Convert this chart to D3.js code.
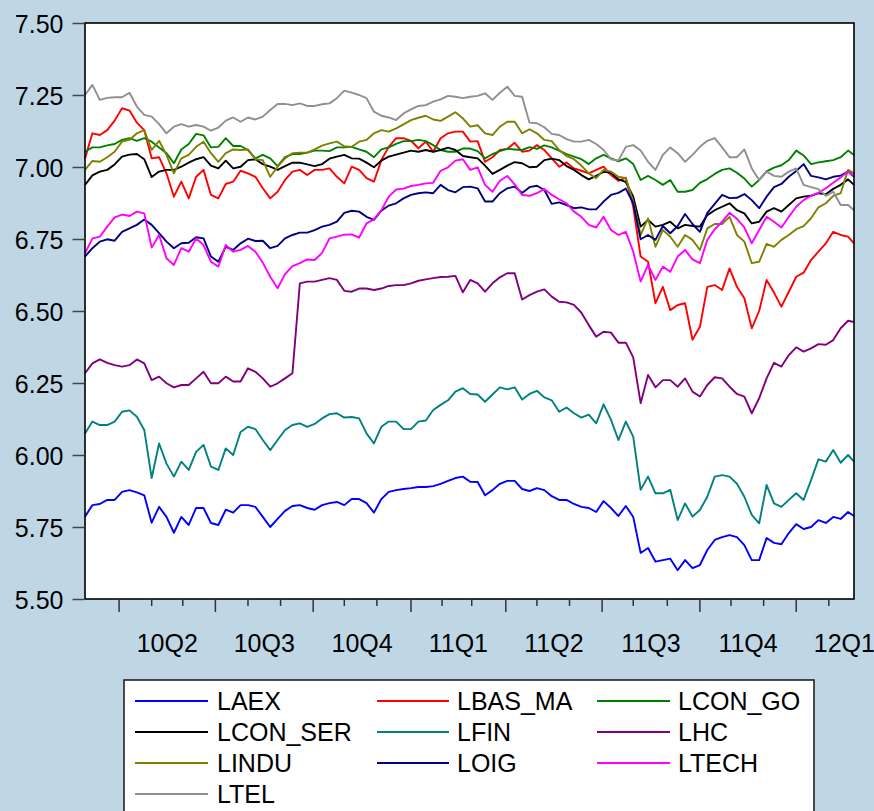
<!DOCTYPE html>
<html><head><meta charset="utf-8">
<script src="https://cdn.jsdelivr.net/npm/d3@7"></script>
<style>body{margin:0;background:#bfd7e4}svg{display:block}</style>
</head><body><svg id="c" width="874" height="811"></svg>
<script>
// ---- data (weekly readings of the daily series, observation index = weekdays since 2010-03-01) ----
const seriesNames = ["LAEX","LBAS_MA","LCON_GO","LCON_SER","LFIN","LHC","LINDU","LOIG","LTECH","LTEL"];
const seriesColors = ["#0000ff","#ff0000","#008000","#000000","#008080","#800080","#808000","#000080","#ff00ff","#8f8f8f"];
const sampleObs = d3.range(0, 520, 5).concat([519]);

const LAEX = [5.786,5.826,5.83,5.844,5.844,5.872,5.878,5.87,5.86,5.765,
5.82,5.785,5.73,5.785,5.757,5.816,5.816,5.764,5.757,5.81,
5.80,5.826,5.826,5.82,5.785,5.75,5.778,5.806,5.823,5.826,
5.816,5.81,5.826,5.833,5.837,5.826,5.847,5.847,5.833,5.80,
5.847,5.872,5.878,5.882,5.885,5.889,5.889,5.892,5.90,5.91,
5.92,5.925,5.907,5.906,5.86,5.878,5.90,5.91,5.91,5.882,
5.875,5.885,5.878,5.857,5.844,5.844,5.83,5.82,5.816,5.802,
5.84,5.816,5.788,5.823,5.785,5.66,5.677,5.63,5.635,5.64,
5.60,5.635,5.607,5.618,5.67,5.705,5.715,5.722,5.715,5.687,
5.635,5.635,5.712,5.695,5.69,5.729,5.76,5.743,5.75,5.774,
5.764,5.785,5.778,5.802,5.788];
const LBAS_MA = [7.03,7.117,7.111,7.128,7.161,7.204,7.196,7.154,7.128,7.03,
7.034,6.978,6.897,6.949,6.891,6.966,6.99,6.903,6.891,6.941,
6.949,6.987,6.978,6.966,6.926,6.891,6.914,6.955,6.984,6.99,
6.972,6.99,6.99,6.995,6.966,6.943,7.001,6.99,6.961,6.949,
7.024,7.07,7.1,7.1,7.091,7.065,7.088,7.053,7.1,7.117,
7.123,7.123,7.088,7.09,7.018,7.034,7.059,7.063,7.084,7.053,
7.057,7.076,7.059,7.03,7.001,7.016,6.995,6.987,6.978,6.99,
7.001,6.972,6.952,6.963,6.862,6.689,6.671,6.527,6.584,6.503,
6.521,6.527,6.40,6.445,6.584,6.59,6.573,6.648,6.584,6.544,
6.44,6.50,6.608,6.564,6.515,6.567,6.619,6.633,6.677,6.706,
6.735,6.775,6.764,6.758,6.735];
const LCON_GO = [7.053,7.068,7.068,7.075,7.08,7.094,7.1,7.091,7.1,7.088,
7.068,7.048,7.013,7.061,7.08,7.115,7.11,7.068,7.07,7.1,
7.073,7.073,7.059,7.03,7.042,7.03,7.003,7.034,7.045,7.045,
7.05,7.057,7.057,7.055,7.068,7.068,7.07,7.061,7.053,7.034,
7.061,7.068,7.08,7.09,7.09,7.094,7.09,7.076,7.059,7.053,
7.053,7.064,7.064,7.055,7.03,7.045,7.055,7.063,7.061,7.059,
7.069,7.063,7.075,7.068,7.057,7.045,7.036,7.027,7.01,7.03,
7.042,7.03,7.02,7.03,7.01,6.955,6.969,6.955,6.938,6.955,
6.914,6.914,6.92,6.945,6.958,6.976,6.99,6.995,6.98,6.96,
6.932,6.955,6.985,6.998,7.006,7.024,7.057,7.04,7.01,7.016,
7.02,7.024,7.034,7.057,7.042];
const LCON_SER = [6.938,6.971,6.984,6.99,7.009,7.036,7.043,7.045,7.027,6.965,
6.984,6.99,6.99,7.001,7.015,7.027,7.034,7.005,6.995,7.022,
6.995,7.001,7.024,7.027,7.01,7.001,6.99,7.003,7.015,7.015,
7.009,7.003,7.01,7.029,7.036,7.042,7.03,7.029,7.015,6.999,
7.022,7.036,7.043,7.05,7.057,7.053,7.059,7.053,7.059,7.067,
7.059,7.038,7.034,7.03,7.005,6.976,6.99,7.005,7.017,7.013,
6.999,7.001,7.024,7.029,7.024,7.003,6.99,6.972,6.957,6.969,
6.983,6.98,6.957,6.948,6.897,6.793,6.816,6.793,6.799,6.81,
6.787,6.799,6.795,6.793,6.833,6.85,6.862,6.874,6.85,6.839,
6.804,6.81,6.845,6.857,6.845,6.868,6.891,6.897,6.9,6.909,
6.905,6.924,6.938,6.957,6.938];
const LFIN = [6.075,6.116,6.104,6.104,6.116,6.15,6.155,6.133,6.087,5.92,
6.04,5.97,5.925,5.977,5.948,6.011,6.035,5.96,5.948,6.023,
6.0,6.08,6.098,6.09,6.052,6.017,6.052,6.087,6.104,6.11,
6.098,6.108,6.127,6.142,6.145,6.13,6.132,6.127,6.075,6.04,
6.098,6.116,6.116,6.09,6.09,6.116,6.12,6.156,6.174,6.19,
6.22,6.232,6.212,6.21,6.185,6.21,6.235,6.228,6.235,6.193,
6.212,6.223,6.2,6.19,6.15,6.165,6.145,6.13,6.14,6.11,
6.176,6.122,6.052,6.116,6.064,5.879,5.925,5.867,5.867,5.879,
5.774,5.832,5.786,5.809,5.855,5.925,5.93,5.925,5.90,5.855,
5.792,5.763,5.896,5.832,5.82,5.844,5.867,5.844,5.913,5.985,
5.977,6.017,5.973,6.0,5.977];
const LHC = [6.284,6.318,6.332,6.32,6.312,6.307,6.312,6.332,6.318,6.26,
6.272,6.249,6.235,6.243,6.243,6.266,6.289,6.249,6.249,6.272,
6.255,6.255,6.301,6.289,6.266,6.237,6.249,6.266,6.284,6.596,
6.602,6.602,6.608,6.614,6.608,6.57,6.567,6.578,6.578,6.573,
6.578,6.587,6.59,6.59,6.596,6.605,6.61,6.614,6.618,6.619,
6.622,6.565,6.608,6.596,6.567,6.596,6.617,6.631,6.631,6.54,
6.555,6.567,6.575,6.55,6.532,6.53,6.521,6.494,6.451,6.411,
6.428,6.425,6.39,6.39,6.339,6.18,6.278,6.235,6.26,6.26,
6.237,6.266,6.22,6.203,6.243,6.27,6.266,6.237,6.212,6.203,
6.145,6.197,6.266,6.32,6.307,6.347,6.374,6.359,6.37,6.385,
6.383,6.399,6.44,6.466,6.462];
const LINDU = [6.99,7.021,7.018,7.034,7.053,7.088,7.094,7.117,7.128,7.059,
7.091,7.042,6.978,7.03,7.042,7.07,7.088,7.048,7.018,7.048,
7.061,7.059,7.061,7.027,7.024,6.966,7.001,7.03,7.048,7.05,
7.05,7.061,7.074,7.082,7.088,7.072,7.07,7.088,7.094,7.117,
7.128,7.123,7.134,7.148,7.163,7.171,7.178,7.165,7.16,7.175,
7.19,7.169,7.14,7.145,7.117,7.111,7.14,7.157,7.157,7.117,
7.131,7.117,7.094,7.09,7.059,7.038,7.027,7.005,6.978,6.961,
6.99,6.984,6.966,6.961,6.88,6.764,6.822,6.723,6.781,6.758,
6.723,6.764,6.747,6.712,6.787,6.802,6.802,6.827,6.764,6.741,
6.666,6.671,6.733,6.723,6.747,6.764,6.784,6.795,6.822,6.86,
6.874,6.9,6.909,6.99,6.978];
const LOIG = [6.689,6.718,6.741,6.749,6.744,6.775,6.787,6.799,6.818,6.799,
6.77,6.741,6.718,6.735,6.737,6.756,6.752,6.689,6.671,6.723,
6.712,6.735,6.751,6.743,6.744,6.718,6.726,6.752,6.764,6.772,
6.772,6.781,6.793,6.799,6.81,6.841,6.848,6.845,6.827,6.816,
6.848,6.866,6.874,6.891,6.903,6.909,6.912,6.909,6.938,6.92,
6.912,6.93,6.932,6.926,6.88,6.88,6.909,6.926,6.932,6.91,
6.93,6.935,6.92,6.872,6.877,6.868,6.857,6.86,6.853,6.853,
6.88,6.903,6.91,6.925,6.874,6.749,6.764,6.747,6.795,6.77,
6.795,6.837,6.802,6.775,6.841,6.872,6.903,6.892,6.893,6.906,
6.885,6.857,6.897,6.93,6.941,6.966,6.986,7.01,6.969,6.964,
6.957,6.966,6.97,6.984,6.966];
const LTECH = [6.70,6.752,6.758,6.793,6.825,6.835,6.83,6.845,6.839,6.72,
6.764,6.683,6.66,6.718,6.706,6.752,6.729,6.671,6.654,6.729,
6.706,6.712,6.726,6.706,6.668,6.619,6.579,6.628,6.656,6.666,
6.679,6.677,6.702,6.752,6.758,6.765,6.766,6.755,6.804,6.818,
6.85,6.897,6.922,6.925,6.934,6.938,6.943,6.945,6.987,6.999,
7.022,7.027,6.99,6.999,6.938,6.914,6.952,6.969,6.94,6.903,
6.9,6.909,6.924,6.903,6.888,6.874,6.845,6.827,6.799,6.79,
6.827,6.781,6.764,6.775,6.706,6.602,6.66,6.608,6.654,6.636,
6.689,6.712,6.679,6.666,6.747,6.784,6.81,6.841,6.82,6.79,
6.735,6.781,6.827,6.81,6.79,6.827,6.862,6.885,6.9,6.91,
6.926,6.945,6.964,6.984,6.966];
const LTEL = [7.25,7.285,7.233,7.24,7.242,7.242,7.258,7.21,7.181,7.175,
7.149,7.117,7.14,7.149,7.14,7.146,7.14,7.126,7.137,7.161,
7.172,7.157,7.172,7.165,7.175,7.198,7.219,7.219,7.215,7.221,
7.212,7.212,7.218,7.221,7.239,7.265,7.258,7.25,7.239,7.192,
7.178,7.172,7.163,7.186,7.2,7.212,7.215,7.227,7.235,7.247,
7.244,7.239,7.244,7.247,7.256,7.233,7.258,7.279,7.247,7.244,
7.154,7.152,7.138,7.115,7.111,7.097,7.088,7.088,7.094,7.08,
7.059,7.027,7.022,7.07,7.076,7.057,7.018,6.99,7.042,7.068,
7.048,7.018,7.042,7.07,7.091,7.1,7.068,7.034,7.034,7.061,
6.995,6.955,6.984,6.969,6.966,6.984,6.995,6.938,6.93,6.923,
6.9,6.914,6.868,6.868,6.85];

const yTicks = [5.50,5.75,6.00,6.25,6.50,6.75,7.00,7.25,7.50];
const allSeries = [LAEX,LBAS_MA,LCON_GO,LCON_SER,LFIN,LHC,LINDU,LOIG,LTECH,LTEL];

// ---- layout ----
const svg = d3.select("#c");
const W = 874, H = 811;
const plot = {left: 85, right: 854, top: 23, bottom: 599};
const FONT = "'Liberation Sans', Arial, Helvetica, sans-serif";

svg.append("rect").attr("width", W).attr("height", H).attr("fill", "#bfd7e4");

const x = d3.scaleLinear().domain([0, 519]).range([plot.left, plot.right]);
const y = d3.scaleLinear().domain([5.5, 7.5]).range([plot.bottom, plot.top]);

// calendar -> observation index (weekdays since start)
const startDate = new Date(2010, 2, 1);
function obsIndex(date) {
  return d3.timeDay.range(startDate, date).filter(d => d.getDay() !== 0 && d.getDay() !== 6).length;
}

svg.append("rect")
  .attr("x", plot.left).attr("y", plot.top)
  .attr("width", plot.right - plot.left).attr("height", plot.bottom - plot.top)
  .attr("fill", "#ffffff");

// series lines
const line = d3.line().x((d, i) => x(sampleObs[i])).y(d => y(d));
allSeries.forEach((s, j) => {
  svg.append("path").datum(s)
    .attr("d", line)
    .attr("fill", "none")
    .attr("stroke", seriesColors[j])
    .attr("stroke-width", 1.9)
    .attr("stroke-linejoin", "round");
});

// frame
svg.append("rect")
  .attr("x", plot.left).attr("y", plot.top)
  .attr("width", plot.right - plot.left).attr("height", plot.bottom - plot.top)
  .attr("fill", "none").attr("stroke", "#000").attr("stroke-width", 1.6);

// y axis
const yAxis = d3.axisLeft(y).tickValues(yTicks).tickFormat(d3.format(".2f"))
  .tickSize(12).tickPadding(9);
const gy = svg.append("g").attr("transform", `translate(${plot.left - 0.5},0)`).call(yAxis);
gy.select(".domain").remove();
gy.selectAll(".tick line").attr("stroke", "#444").attr("stroke-width", 1.5);
gy.selectAll(".tick text").attr("font-family", FONT).attr("font-size", 25).attr("fill", "#000").attr("dy", "0.36em");

// x axis: monthly ticks, quarterly major ticks, quarter labels
const months = d3.timeMonth.range(new Date(2010, 3, 1), new Date(2012, 2, 1));
const gx = svg.append("g");
months.forEach(m => {
  const xi = x(obsIndex(m));
  const major = m.getMonth() % 3 === 0;
  gx.append("line")
    .attr("x1", xi).attr("x2", xi)
    .attr("y1", plot.bottom).attr("y2", plot.bottom + (major ? 13 : 7))
    .attr("stroke", "#333").attr("stroke-width", 1.5);
});
const quarters = months.filter(m => m.getMonth() % 3 === 0);
quarters.forEach(q => {
  const next = d3.timeMonth.offset(q, 3);
  const cx = (x(obsIndex(q)) + x(obsIndex(next))) / 2;
  const label = String(q.getFullYear() % 100).padStart(2, "0") + "Q" + (q.getMonth() / 3 + 1);
  gx.append("text")
    .attr("x", cx).attr("y", 652)
    .attr("text-anchor", "middle")
    .attr("font-family", FONT).attr("font-size", 25).attr("fill", "#000")
    .text(label);
});

// legend
const legend = {left: 124, top: 680, right: 814};
svg.append("rect")
  .attr("x", legend.left).attr("y", legend.top)
  .attr("width", legend.right - legend.left).attr("height", 160)
  .attr("fill", "#ffffff").attr("stroke", "#222").attr("stroke-width", 1.6);
const colLine = [[135, 208], [377, 449], [597, 670]];
const colText = [217, 457, 678];
const rowY = [701, 732, 763, 794];
seriesNames.forEach((name, j) => {
  const r = Math.floor(j / 3), c = j % 3;
  svg.append("line")
    .attr("x1", colLine[c][0]).attr("x2", colLine[c][1])
    .attr("y1", rowY[r]).attr("y2", rowY[r])
    .attr("stroke", seriesColors[j]).attr("stroke-width", 2);
  svg.append("text")
    .attr("x", colText[c]).attr("y", rowY[r] + 9)
    .attr("font-family", FONT).attr("font-size", 25).attr("fill", "#000")
    .text(name);
});
</script>
</body></html>
